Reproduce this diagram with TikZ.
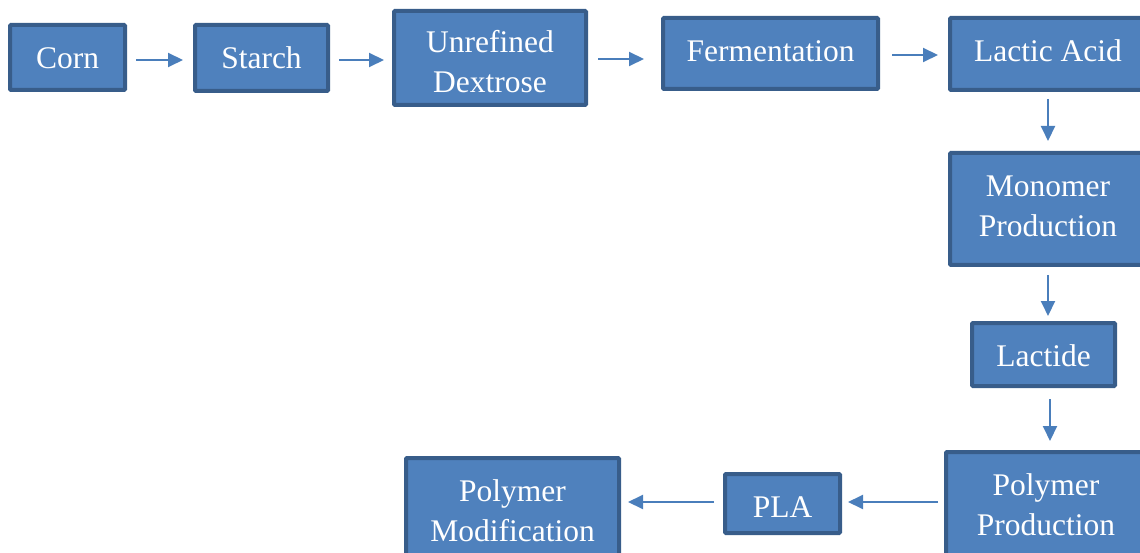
\documentclass[tikz,border=0pt]{standalone}
\usepackage{fontspec}
\setmainfont{Liberation Serif}
\usetikzlibrary{arrows.meta}
\definecolor{boxfill}{HTML}{4F81BD}
\definecolor{boxline}{HTML}{385D8A}
\definecolor{arrowcol}{HTML}{4A7EBB}
\begin{document}
\begin{tikzpicture}[x=1pt,y=-1pt,
  % every stage puts its first baseline at the same depth below its top edge
  stage/.style n args={3}{draw=boxline, line width=4pt, fill=boxfill, text=white,
    font=\fontsize{31.5}{40}\selectfont, align=center, inner sep=0pt,
    rounded corners=1pt, minimum width=#1pt, minimum height=#2pt,
    text height=30pt, text depth=#3pt},
  twoline/.style={text height=70pt},
  arr/.style={draw=arrowcol, line width=2pt,
    -{Triangle[length=15pt,width=14pt]}}]
\useasboundingbox (0,0) rectangle (1140,553);
\clip (0,0) rectangle (1140,553);
% process stages
\node[stage={115}{65}{8}] (corn) at (67.5,57.5) {Corn};
\node[stage={133}{66}{9}] (starch) at (261.5,58) {Starch};
\node[stage={192}{94}{0}, twoline] (dextrose) at (490,58) {Unrefined\\Dextrose};
\node[stage={215}{71}{14}] (ferm) at (770.5,53.5) {Fermentation};
\node[stage={196}{72}{15}] (lactic) at (1048,54) {Lactic Acid};
\node[stage={196}{112}{15}, twoline] (monomer) at (1048,209) {Monomer\\Production};
\node[stage={143}{63}{6}] (lactide) at (1043.5,354.5) {Lactide};
\node[stage={200}{108}{11}, twoline] (polyprod) at (1046,506) {Polymer\\Production};
\node[stage={115}{59}{2}] (pla) at (782.5,503.5) {PLA};
\node[stage={213}{104}{7}, twoline] (polymod) at (512.5,510) {Polymer\\Modification};
% flow arrows
\draw[arr, shorten <=9pt, shorten >=10pt] ([yshift=-2.5]corn.east) -- ([yshift=-2]starch.west);
\draw[arr, shorten <=9pt, shorten >=8pt] ([yshift=-2]starch.east) -- ([yshift=-2]dextrose.west);
\draw[arr, shorten <=10pt, shorten >=17pt] ([yshift=-1]dextrose.east) -- ([yshift=-1]dextrose.east -| ferm.west);
\draw[arr, shorten <=12pt, shorten >=10pt] ([yshift=-1.5]ferm.east) -- ([yshift=-1]lactic.west);
\draw[arr, shorten <=7pt, shorten >=10pt] (lactic.south) -- (monomer.north);
\draw[arr, shorten <=8pt, shorten >=5pt] (monomer.south) -- (monomer.south |- lactide.north);
\draw[arr, shorten <=11pt, shorten >=9pt] ([xshift=6.5]lactide.south) -- ([xshift=6.5]lactide.south |- polyprod.north);
\draw[arr, shorten <=6pt, shorten >=6pt] ([yshift=1.5]pla.east -| polyprod.west) -- ([yshift=1.5]pla.east);
\draw[arr, shorten <=9pt, shorten >=7pt] ([yshift=1.5]pla.west) -- ([yshift=1.5]pla.west -| polymod.east);
\end{tikzpicture}
\end{document}
